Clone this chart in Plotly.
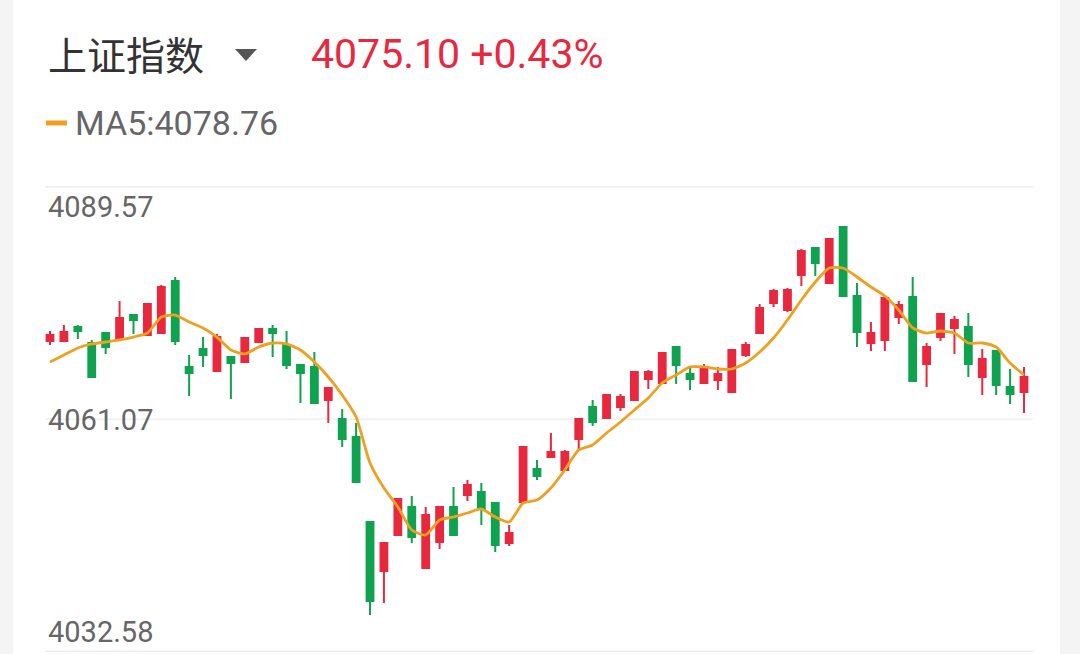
import plotly.graph_objects as go

# ---- data ----
title_name = "上证指数"
last_price_text = "4075.10 +0.43%"
ma_label = "MA5:4078.76"
y_tick_labels = ["4089.57", "4061.07", "4032.58"]
y_tick_values = [4089.57, 4061.07, 4032.58]

opens = [4070.62, 4070.62, 4072.33, 4070.37, 4071.59, 4070.98, 4073.79, 4071.35, 4071.59, 4077.95,
         4067.44, 4069.64, 4066.95, 4068.66, 4068.05, 4070.49, 4072.08, 4070.13, 4067.68, 4067.44,
         4063.40, 4061.08, 4058.88, 4048.48, 4042.49, 4046.89, 4050.32, 4042.86, 4046.03, 4050.32,
         4051.78, 4052.15, 4050.80, 4045.91, 4050.93, 4054.96, 4056.43, 4054.84, 4058.63, 4062.54,
         4061.20, 4062.54, 4063.40, 4065.97, 4065.48, 4069.88, 4066.58, 4065.48, 4065.85, 4064.38,
         4068.90, 4071.59, 4075.26, 4074.41, 4078.69, 4081.99, 4077.71, 4084.56, 4076.12, 4070.37,
         4070.74, 4073.55, 4075.99, 4067.80, 4071.10, 4072.21, 4072.33, 4066.21, 4069.39, 4064.99,
         4064.38]
highs = [4071.84, 4072.57, 4072.57, 4070.74, 4071.70, 4075.51, 4073.92, 4075.26, 4077.46, 4078.44,
         4068.90, 4071.10, 4071.47, 4068.78, 4071.10, 4072.20, 4072.57, 4071.84, 4067.80, 4069.27,
         4064.95, 4062.30, 4060.59, 4048.55, 4046.00, 4051.41, 4051.66, 4050.32, 4050.40, 4052.76,
         4053.62, 4053.25, 4050.92, 4048.11, 4057.77, 4056.06, 4059.36, 4057.29, 4061.15, 4063.40,
         4064.13, 4064.13, 4066.95, 4067.07, 4069.25, 4070.00, 4067.31, 4067.80, 4067.44, 4069.60,
         4070.49, 4075.14, 4076.97, 4077.10, 4081.87, 4082.05, 4083.21, 4084.68, 4077.71, 4072.94,
         4075.99, 4075.51, 4078.44, 4070.37, 4074.04, 4073.67, 4074.04, 4069.64, 4069.45, 4067.19,
         4067.44]
lows = [4070.13, 4070.45, 4070.86, 4066.10, 4069.03, 4070.90, 4071.47, 4071.30, 4071.50, 4070.13,
        4063.89, 4067.44, 4066.90, 4063.52, 4067.95, 4070.40, 4068.66, 4067.19, 4063.03, 4062.95,
        4060.59, 4057.65, 4053.30, 4037.11, 4038.57, 4046.80, 4045.91, 4042.80, 4045.18, 4046.80,
        4051.05, 4048.11, 4044.81, 4045.55, 4050.85, 4053.62, 4056.31, 4054.75, 4057.41, 4060.22,
        4061.10, 4062.05, 4063.30, 4064.75, 4065.40, 4065.36, 4064.62, 4065.36, 4064.62, 4064.30,
        4068.66, 4071.50, 4074.77, 4074.16, 4077.34, 4078.56, 4077.60, 4076.00, 4069.88, 4069.39,
        4069.39, 4072.69, 4065.60, 4064.99, 4070.62, 4069.03, 4066.21, 4064.01, 4064.01, 4062.91,
        4061.81]
closes = [4071.35, 4071.72, 4071.84, 4066.21, 4069.88, 4073.43, 4073.18, 4075.14, 4077.22, 4070.62,
          4066.70, 4068.90, 4071.10, 4067.92, 4070.98, 4072.08, 4071.59, 4067.68, 4066.70, 4063.03,
          4064.87, 4058.63, 4053.37, 4038.82, 4045.91, 4051.29, 4046.65, 4049.34, 4050.32, 4046.89,
          4053.01, 4050.07, 4045.67, 4047.14, 4057.65, 4054.11, 4057.04, 4057.04, 4061.08, 4060.71,
          4064.01, 4063.77, 4066.82, 4066.82, 4069.15, 4067.68, 4065.97, 4067.44, 4066.58, 4069.51,
          4070.13, 4074.65, 4076.73, 4076.85, 4081.62, 4080.15, 4083.09, 4076.12, 4071.72, 4071.59,
          4075.87, 4075.02, 4065.72, 4069.88, 4073.92, 4073.18, 4067.80, 4068.41, 4065.23, 4064.13,
          4066.21]
ma5 = [4068.05, 4068.90, 4069.76, 4070.25, 4070.49, 4070.74, 4071.10, 4071.59, 4073.55, 4073.79,
       4072.94, 4072.21, 4071.10, 4069.51, 4069.03, 4069.88, 4070.37, 4070.25, 4069.51, 4068.05,
       4066.21, 4064.01, 4061.32, 4055.70, 4052.64, 4050.32, 4047.50, 4046.89, 4048.73, 4049.09,
       4049.58, 4050.07, 4049.09, 4048.48, 4050.80, 4051.17, 4052.64, 4054.84, 4057.29, 4057.90,
       4059.36, 4060.71, 4062.18, 4063.64, 4065.48, 4066.46, 4067.44, 4067.44, 4067.19, 4067.19,
       4067.92, 4069.27, 4070.98, 4073.18, 4075.63, 4077.83, 4079.54, 4079.54, 4078.44, 4077.22,
       4076.12, 4074.41, 4072.21, 4071.59, 4071.84, 4071.59, 4070.37, 4070.37, 4069.88, 4067.92,
       4066.46]
idx = list(range(len(closes)))

# ---- style ----
RED = "#E8283E"
GREEN = "#0FA24F"
ORANGE = "#EFA020"
W_PX, H_PX = 1080, 654
L, R, T, B = 45, 47, 186, 2
PW = W_PX - L - R
PH = H_PX - T - B
STEP = 13.914  # pixel spacing between candles


def px(x):
    return (x - L) / PW


def py(y):
    return (H_PX - B - y) / PH


fig = go.Figure()
fig.add_trace(go.Candlestick(
    x=idx, open=opens, high=highs, low=lows, close=closes,
    increasing=dict(line=dict(color=RED, width=2), fillcolor=RED),
    decreasing=dict(line=dict(color=GREEN, width=2), fillcolor=GREEN),
    whiskerwidth=0, hoverinfo="skip", showlegend=False,
))
fig.add_trace(go.Scatter(
    x=idx, y=ma5, mode="lines", line=dict(color=ORANGE, width=2.8, shape="spline", smoothing=0.6),
    hoverinfo="skip", showlegend=False,
))

shapes = []
# outer light grey strips
shapes.append(dict(type="rect", xref="paper", yref="paper", x0=px(0), x1=px(13), y0=py(H_PX), y1=py(0),
                   fillcolor="#F4F4F4", line=dict(width=0), layer="below"))
shapes.append(dict(type="rect", xref="paper", yref="paper", x0=px(1060), x1=px(W_PX), y0=py(H_PX), y1=py(0),
                   fillcolor="#F4F4F4", line=dict(width=0), layer="below"))
# grid lines
for val, wdt in zip(y_tick_values, [3, 1.2, 3]):
    shapes.append(dict(type="line", xref="paper", yref="y", x0=0, x1=1, y0=val, y1=val,
                       line=dict(color="#EDEDED", width=wdt), layer="below"))
# MA5 legend dash
shapes.append(dict(type="line", xref="paper", yref="paper", x0=px(46), x1=px(67), y0=py(123), y1=py(123),
                   line=dict(color=ORANGE, width=5)))
# dropdown triangle
tri = "M {:.5f},{:.5f} L {:.5f},{:.5f} L {:.5f},{:.5f} Z".format(
    px(235), py(49), px(257), py(49), px(246), py(61))
shapes.append(dict(type="path", xref="paper", yref="paper", path=tri,
                   fillcolor="#555555", line=dict(width=0)))

annotations = [
    dict(text=title_name, xref="paper", yref="paper", x=px(46), y=py(53), xanchor="left", yanchor="middle",
         showarrow=False, font=dict(family="Noto Sans CJK SC", size=39, color="#333333")),
    dict(text=last_price_text, xref="paper", yref="paper", x=px(309), y=py(54), xanchor="left",
         yanchor="middle", showarrow=False, font=dict(family="Roboto", size=41, color=RED)),
    dict(text=ma_label, xref="paper", yref="paper", x=px(73), y=py(123), xanchor="left", yanchor="middle",
         showarrow=False, font=dict(family="Roboto", size=34, color="#666666")),
]
for lbl, ypix in zip(y_tick_labels, [207, 420, 632]):
    annotations.append(dict(text=lbl, xref="paper", yref="paper", x=px(46), y=py(ypix), xanchor="left",
                            yanchor="middle", showarrow=False,
                            font=dict(family="Roboto", size=29, color="#666666")))

n = len(closes)
fig.update_layout(
    width=W_PX, height=H_PX,
    margin=dict(l=L, r=R, t=T, b=B),
    paper_bgcolor="white", plot_bgcolor="white",
    xaxis=dict(visible=False, range=[-5 / STEP, (n - 1) + 9 / STEP], rangeslider=dict(visible=False),
               fixedrange=True),
    yaxis=dict(visible=False, range=[y_tick_values[2], y_tick_values[0]], fixedrange=True),
    shapes=shapes, annotations=annotations,
    boxgap=0.3,
)
fig.write_html("out.html")
